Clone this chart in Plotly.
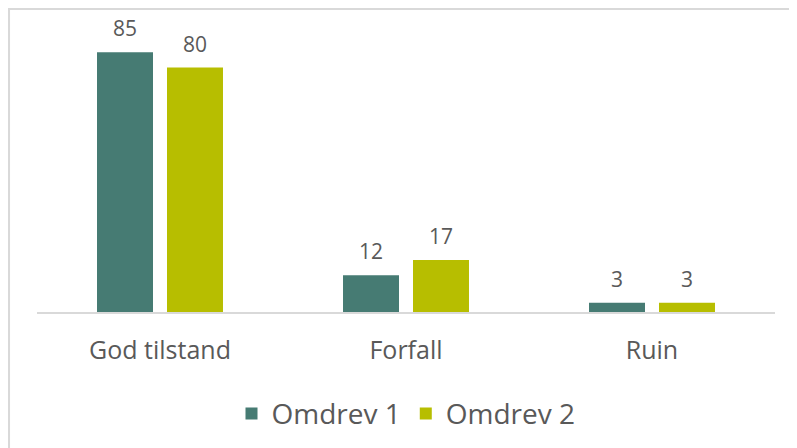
import plotly.graph_objects as go

# data
categories = ["God tilstand", "Forfall", "Ruin"]
omdrev_1 = [85, 12, 3]
omdrev_2 = [80, 17, 3]

teal = "#467B73"
lime = "#B7BE00"
txt = "#595959"
font_family = "Open Sans, Liberation Sans, sans-serif"

fig = go.Figure()
fig.add_trace(go.Bar(
    x=categories, y=omdrev_1, name="Omdrev 1",
    marker_color=teal, marker_line_width=0,
))
fig.add_trace(go.Bar(
    x=categories, y=omdrev_2, name="Omdrev 2",
    marker_color=lime, marker_line_width=0,
))

# value labels above each bar (bar half-slot is 35px either side of category)
for vals, shift in [(omdrev_1, -35), (omdrev_2, 35)]:
    for cat, v in zip(categories, vals):
        fig.add_annotation(
            x=cat, y=v, text=str(v), showarrow=False,
            xshift=shift, yshift=8, yanchor="bottom",
            font=dict(size=21, color=txt),
        )

# page has an 8px body margin, so the figure is offset by 8px
fig.update_layout(
    width=797, height=448,
    margin=dict(l=29, r=30, t=29, b=144, autoexpand=False),
    paper_bgcolor="white", plot_bgcolor="white",
    font=dict(family=font_family, color=txt),
    barmode="group", bargap=0.431, bargroupgap=0.2,
    showlegend=True,
    legend=dict(
        orientation="h", x=0.5, xanchor="center",
        y=-0.37, yanchor="middle",
        font=dict(size=28, color=txt),
        traceorder="normal",
    ),
    xaxis=dict(
        showline=True, linecolor="#D9D9D9", linewidth=1.5,
        ticks="", tickfont=dict(size=25, color=txt),
        ticklabelstandoff=15,
        showgrid=False,
    ),
    yaxis=dict(
        range=[0, 90], visible=False, showgrid=False,
    ),
    shapes=[dict(
        type="rect", xref="paper", yref="paper",
        x0=-0.0379, x1=1.1, y0=-0.6, y1=1.1018,
        line=dict(color="#D9D9D9", width=2),
        fillcolor="rgba(0,0,0,0)", layer="below",
    )],
)

fig.write_html("out.html")
